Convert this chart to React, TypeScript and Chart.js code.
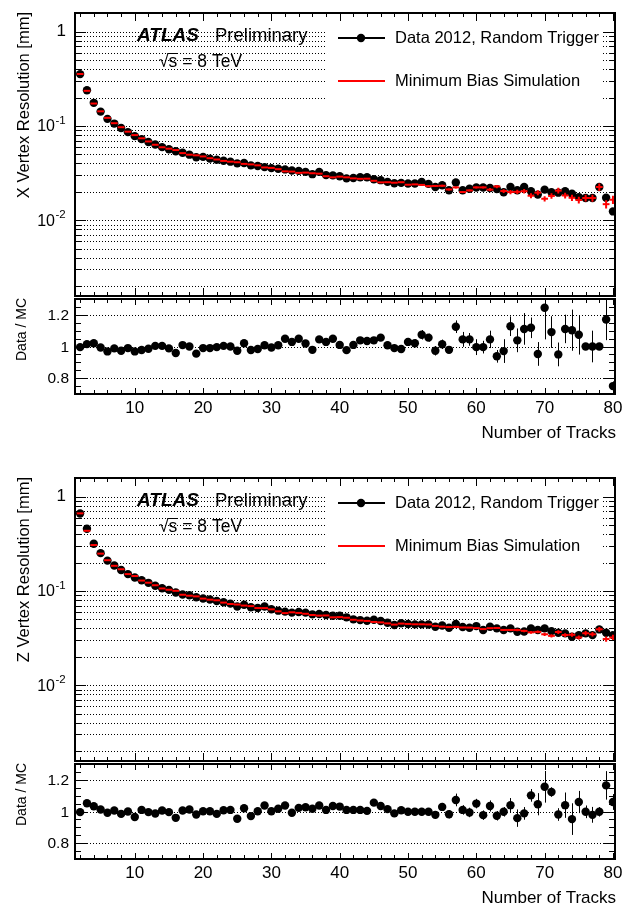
import { useEffect, useRef } from "react";
import { Chart, registerables } from "chart.js";

Chart.register(...registerables);

const FONT = '"Liberation Sans", Arial, Helvetica, sans-serif';

// number of tracks per vertex (bin centres)
const tracks = [
  2, 3, 4, 5, 6, 7, 8, 9, 10, 11, 12, 13, 14, 15, 16, 17, 18, 19, 20, 21,
  22, 23, 24, 25, 26, 27, 28, 29, 30, 31, 32, 33, 34, 35, 36, 37, 38, 39, 40, 41,
  42, 43, 44, 45, 46, 47, 48, 49, 50, 51, 52, 53, 54, 55, 56, 57, 58, 59, 60, 61,
  62, 63, 64, 65, 66, 67, 68, 69, 70, 71, 72, 73, 74, 75, 76, 77, 78, 79, 80,
];

// X vertex resolution [mm]
const xData = [
  0.355, 0.239, 0.176, 0.142, 0.119, 0.106, 0.095, 0.086, 0.078, 0.0725,
  0.0675, 0.0635, 0.0596, 0.0567, 0.054, 0.052, 0.0496, 0.0466, 0.047, 0.045,
  0.0439, 0.0428, 0.0418, 0.0401, 0.0404, 0.0382, 0.0376, 0.0366, 0.0357, 0.0351,
  0.0346, 0.0337, 0.0334, 0.0326, 0.0308, 0.0326, 0.0301, 0.0299, 0.0293, 0.0278,
  0.0281, 0.0286, 0.0286, 0.0272, 0.0266, 0.0255, 0.0247, 0.0249, 0.0245, 0.0245,
  0.0255, 0.0243, 0.0225, 0.0235, 0.0208, 0.0251, 0.0208, 0.0216, 0.0222, 0.0222,
  0.022, 0.0214, 0.0198, 0.0225, 0.0208, 0.0225, 0.0203, 0.0187, 0.0211, 0.0198,
  0.0196, 0.0203, 0.0191, 0.0176, 0.0172, 0.0172, 0.0225, 0.0173, 0.0124,
];
const xSim = [
  0.356, 0.236, 0.173, 0.143, 0.122, 0.107, 0.097, 0.087, 0.08, 0.074,
  0.0685, 0.0632, 0.0594, 0.0574, 0.0555, 0.0515, 0.0496, 0.0488, 0.0475, 0.0455,
  0.0441, 0.0426, 0.0418, 0.0412, 0.0396, 0.0391, 0.0382, 0.0363, 0.0359, 0.0348,
  0.033, 0.0328, 0.0318, 0.032, 0.0315, 0.0312, 0.0293, 0.0285, 0.029, 0.0285,
  0.0278, 0.0275, 0.0276, 0.0262, 0.0252, 0.0253, 0.025, 0.0253, 0.0238, 0.024,
  0.0237, 0.023, 0.0231, 0.0232, 0.0212, 0.0223, 0.0199, 0.0207, 0.0223, 0.0223,
  0.0211, 0.0228, 0.0204, 0.0199, 0.02, 0.0203, 0.0182, 0.0196, 0.0169, 0.0181,
  0.0206, 0.0183, 0.0173, 0.0164, 0.0172, 0.0172, 0.0225, 0.0148, 0.0165,
];
// relative uncertainty of the simulation
const xSimErr = [
  0.004, 0.004, 0.004, 0.004, 0.004, 0.004, 0.004, 0.004, 0.004, 0.004,
  0.005, 0.005, 0.005, 0.005, 0.005, 0.005, 0.005, 0.005, 0.005, 0.005,
  0.007, 0.007, 0.007, 0.007, 0.007, 0.007, 0.007, 0.007, 0.007, 0.007,
  0.01, 0.01, 0.01, 0.01, 0.01, 0.01, 0.01, 0.01, 0.01, 0.01,
  0.015, 0.015, 0.015, 0.015, 0.015, 0.015, 0.015, 0.015, 0.015, 0.015,
  0.025, 0.025, 0.025, 0.025, 0.025, 0.025, 0.025, 0.025, 0.025, 0.025,
  0.04, 0.04, 0.045, 0.05, 0.05, 0.055, 0.06, 0.06, 0.065, 0.065,
  0.07, 0.07, 0.075, 0.08, 0.08, 0.085, 0.09, 0.1, 0.1,
];
const xRatio = [
  0.996, 1.015, 1.021, 0.994, 0.969, 0.988, 0.973, 0.99, 0.969, 0.978,
  0.986, 1.004, 1.004, 0.988, 0.959, 1.009, 1.0, 0.955, 0.99, 0.99,
  0.996, 1.004, 1.0, 0.973, 1.021, 0.978, 0.984, 1.008, 0.994, 1.008,
  1.049, 1.029, 1.049, 1.019, 0.979, 1.045, 1.029, 1.049, 1.01, 0.977,
  1.01, 1.039, 1.035, 1.039, 1.056, 1.008, 0.99, 0.984, 1.029, 1.021,
  1.074, 1.056, 0.973, 1.014, 0.979, 1.125, 1.045, 1.045, 0.996, 0.996,
  1.045, 0.938, 0.971, 1.128, 1.039, 1.111, 1.118, 0.953, 1.245, 1.091,
  0.95, 1.111, 1.103, 1.074, 1.0, 1.0, 1.0, 1.17, 0.75,
];
const xRatioErr = [
  0.004, 0.004, 0.004, 0.004, 0.004, 0.005, 0.005, 0.005, 0.005, 0.005,
  0.006, 0.006, 0.006, 0.006, 0.007, 0.007, 0.007, 0.007, 0.008, 0.008,
  0.008, 0.009, 0.009, 0.01, 0.01, 0.01, 0.011, 0.011, 0.012, 0.012,
  0.013, 0.013, 0.014, 0.014, 0.015, 0.015, 0.016, 0.016, 0.017, 0.018,
  0.018, 0.019, 0.02, 0.02, 0.021, 0.022, 0.023, 0.024, 0.025, 0.026,
  0.03, 0.025, 0.03, 0.03, 0.02, 0.04, 0.047, 0.04, 0.05, 0.04,
  0.055, 0.04, 0.075, 0.062, 0.075, 0.1, 0.065, 0.075, 0.2, 0.1,
  0.075, 0.09, 0.13, 0.125, 0, 0.1, 0, 0.13, 0.03,
];

// Z vertex resolution [mm]
const zData = [
  0.663, 0.458, 0.317, 0.252, 0.21, 0.186, 0.167, 0.151, 0.139, 0.13,
  0.122, 0.1135, 0.107, 0.1027, 0.0964, 0.0918, 0.0902, 0.0859, 0.0832, 0.0811,
  0.0784, 0.0759, 0.0734, 0.0685, 0.0715, 0.0671, 0.066, 0.0683, 0.0639, 0.0618,
  0.0604, 0.0589, 0.0598, 0.0589, 0.0565, 0.0569, 0.0555, 0.0545, 0.0545, 0.0525,
  0.05, 0.0491, 0.0483, 0.0495, 0.048, 0.046, 0.0435, 0.0455, 0.0446, 0.0442,
  0.0442, 0.044, 0.0417, 0.043, 0.0407, 0.0446, 0.0414, 0.0407, 0.0424, 0.0385,
  0.0417, 0.0401, 0.0385, 0.0401, 0.0369, 0.0372, 0.0401, 0.0385, 0.0401, 0.0375,
  0.036, 0.0355, 0.0327, 0.034, 0.0355, 0.034, 0.0391, 0.036, 0.034,
];
const zSim = [
  0.666, 0.435, 0.307, 0.249, 0.212, 0.185, 0.17, 0.151, 0.144, 0.129,
  0.1225, 0.115, 0.1063, 0.1031, 0.1004, 0.0912, 0.0891, 0.0876, 0.083, 0.0809,
  0.0796, 0.0753, 0.0727, 0.0718, 0.07, 0.0691, 0.0659, 0.0658, 0.0638, 0.0608,
  0.0582, 0.0594, 0.0585, 0.0573, 0.0556, 0.0548, 0.055, 0.0525, 0.0528, 0.052,
  0.0495, 0.0486, 0.0481, 0.0469, 0.0464, 0.0453, 0.044, 0.0451, 0.0447, 0.0443,
  0.0443, 0.0441, 0.0426, 0.0418, 0.0414, 0.0416, 0.041, 0.0409, 0.0404, 0.0394,
  0.0403, 0.0405, 0.0386, 0.0386, 0.0385, 0.0377, 0.0364, 0.0368, 0.0347, 0.0334,
  0.0367, 0.0341, 0.0343, 0.0321, 0.0356, 0.0347, 0.0392, 0.0309, 0.0321,
];
const zSimErr = [
  0.003, 0.003, 0.003, 0.003, 0.003, 0.003, 0.003, 0.003, 0.003, 0.003,
  0.004, 0.004, 0.004, 0.004, 0.004, 0.004, 0.004, 0.004, 0.004, 0.004,
  0.005, 0.005, 0.005, 0.005, 0.005, 0.005, 0.005, 0.005, 0.005, 0.005,
  0.007, 0.007, 0.007, 0.007, 0.007, 0.007, 0.007, 0.007, 0.007, 0.007,
  0.01, 0.01, 0.01, 0.01, 0.01, 0.01, 0.01, 0.01, 0.01, 0.01,
  0.015, 0.015, 0.015, 0.015, 0.015, 0.015, 0.015, 0.015, 0.015, 0.015,
  0.02, 0.02, 0.025, 0.025, 0.03, 0.03, 0.035, 0.035, 0.04, 0.04,
  0.045, 0.045, 0.05, 0.05, 0.055, 0.055, 0.06, 0.065, 0.07,
];
const zRatio = [
  0.996, 1.052, 1.033, 1.0125, 0.992, 1.006, 0.985, 1.0, 0.965, 1.01,
  0.996, 0.9875, 1.006, 0.996, 0.96, 1.006, 1.0125, 0.981, 1.002, 1.002,
  0.985, 1.008, 1.01, 0.954, 1.021, 0.971, 1.002, 1.0375, 1.002, 1.017,
  1.0375, 0.992, 1.023, 1.027, 1.017, 1.0375, 1.01, 1.035, 1.031, 1.01,
  1.01, 1.01, 1.004, 1.056, 1.035, 1.015, 0.988, 1.008, 0.998, 0.998,
  0.998, 0.998, 0.979, 1.029, 0.983, 1.073, 1.01, 0.994, 1.05, 0.977,
  1.035, 0.973, 0.998, 1.04, 0.958, 0.988, 1.102, 1.046, 1.156, 1.123,
  0.981, 1.04, 0.952, 1.06, 0.998, 0.979, 0.998, 1.165, 1.06,
];
const zRatioErr = [
  0.004, 0.004, 0.004, 0.004, 0.004, 0.005, 0.005, 0.005, 0.005, 0.005,
  0.005, 0.006, 0.006, 0.006, 0.006, 0.007, 0.007, 0.007, 0.008, 0.008,
  0.008, 0.009, 0.009, 0.009, 0.01, 0.01, 0.01, 0.011, 0.011, 0.011,
  0.012, 0.012, 0.013, 0.013, 0.013, 0.014, 0.014, 0.015, 0.015, 0.016,
  0.016, 0.017, 0.017, 0.018, 0.018, 0.019, 0.02, 0.02, 0.021, 0.022,
  0.022, 0.023, 0.024, 0.025, 0.026, 0.04, 0.03, 0.03, 0.03, 0.03,
  0.035, 0.03, 0.03, 0.045, 0.055, 0.04, 0.04, 0.07, 0.1, 0.03,
  0.04, 0.08, 0.1, 0.07, 0.04, 0.05, 0.03, 0.09, 0.05,
];

// axes
const X_MIN = 1.25;
const X_MAX = 80.3;
const RES_MIN = 0.00157;
const RES_MAX = 1.58;
const RATIO_MIN = 0.7;
const RATIO_MAX = 1.3;

const trackLabels = [10, 20, 30, 40, 50, 60, 70, 80];
const decadeLabels = [
  { value: 0.01, exp: "-2" },
  { value: 0.1, exp: "-1" },
  { value: 1, exp: "" },
];
const ratioLabels = [
  { value: 0.8, text: "0.8" },
  { value: 1, text: "1" },
  { value: 1.2, text: "1.2" },
];

const resGrid: number[] = [];
for (const d of [0.001, 0.01, 0.1]) {
  for (let k = 1; k <= 9; k++) {
    const v = +(k * d).toPrecision(3);
    if (v > RES_MIN && v < RES_MAX) resGrid.push(v);
  }
}
resGrid.push(1);

const ratioTicks: number[] = [];
for (let v = 0.75; v < 1.3; v += 0.05) ratioTicks.push(+v.toFixed(2));

const trackTicks: number[] = [];
for (let t = 2; t <= 80; t += 2) trackTicks.push(t);

const MARKER = 4.2;

function drawFrame(
  chart: any,
  yTicks: { value: number; len: number }[],
  xMajor: number,
  xMinor: number
) {
  const { ctx, chartArea: a, scales } = chart;
  ctx.save();
  ctx.strokeStyle = "#000";
  ctx.lineWidth = 1;
  ctx.beginPath();
  for (const t of trackTicks) {
    const px = Math.round(scales.x.getPixelForValue(t)) + 0.5;
    const len = t % 10 === 0 ? xMajor : xMinor;
    ctx.moveTo(px, a.top);
    ctx.lineTo(px, a.top + len);
    ctx.moveTo(px, a.bottom);
    ctx.lineTo(px, a.bottom - len);
  }
  for (const t of yTicks) {
    const py = Math.round(scales.y.getPixelForValue(t.value)) + 0.5;
    ctx.moveTo(a.left, py);
    ctx.lineTo(a.left + t.len, py);
    ctx.moveTo(a.right, py);
    ctx.lineTo(a.right - t.len, py);
  }
  ctx.stroke();
  ctx.lineWidth = 2;
  ctx.strokeRect(a.left, a.top, a.right - a.left, a.bottom - a.top);
  ctx.restore();
}

function drawVerticalTitle(ctx: CanvasRenderingContext2D, text: string, x: number, y: number, size: number) {
  ctx.save();
  ctx.translate(x, y);
  ctx.rotate(-Math.PI / 2);
  ctx.font = `${size}px ${FONT}`;
  ctx.textAlign = "right";
  ctx.textBaseline = "middle";
  ctx.fillStyle = "#000";
  ctx.fillText(text, 0, 0);
  ctx.restore();
}

function resolutionPlugin(title: string, sim: number[], simErr: number[]) {
  return {
    id: "rootMain",
    beforeDatasetsDraw(chart: any) {
      const { ctx, chartArea: a, scales } = chart;
      ctx.save();
      ctx.strokeStyle = "#000";
      ctx.lineWidth = 1;
      ctx.setLineDash([1, 2]);
      ctx.beginPath();
      for (const v of resGrid) {
        const py = Math.round(scales.y.getPixelForValue(v)) + 0.5;
        ctx.moveTo(a.left, py);
        ctx.lineTo(a.right, py);
      }
      ctx.stroke();
      ctx.setLineDash([]);
      // legend box hides the grid
      ctx.fillStyle = "#fff";
      ctx.fillRect(325, a.top, 277, 112 - a.top);
      ctx.restore();
    },
    afterDatasetsDraw(chart: any) {
      const { ctx, chartArea: a, scales } = chart;
      ctx.save();
      // simulation uncertainties
      ctx.strokeStyle = "#ff0000";
      ctx.lineWidth = 2;
      ctx.beginPath();
      tracks.forEach((t, i) => {
        const px = scales.x.getPixelForValue(t);
        const lo = scales.y.getPixelForValue(sim[i] * (1 - simErr[i]));
        const hi = scales.y.getPixelForValue(sim[i] * (1 + simErr[i]));
        if (lo - hi > 2) {
          ctx.moveTo(px, hi);
          ctx.lineTo(px, lo);
        }
      });
      ctx.stroke();
      ctx.restore();

      drawFrame(
        chart,
        resGrid.map((v) => ({ value: v, len: [0.01, 0.1, 1].includes(v) ? 11 : 6 })),
        8,
        4
      );

      ctx.save();
      ctx.fillStyle = "#000";
      ctx.textBaseline = "middle";
      for (const d of decadeLabels) {
        const py = scales.y.getPixelForValue(d.value);
        if (!d.exp) {
          ctx.font = `17px ${FONT}`;
          ctx.textAlign = "right";
          ctx.fillText("1", a.left - 9, py);
        } else {
          ctx.font = `16px ${FONT}`;
          ctx.textAlign = "right";
          ctx.fillText("10", a.left - 20, py + 1);
          ctx.font = `11.5px ${FONT}`;
          ctx.textAlign = "left";
          ctx.fillText(d.exp, a.left - 19.5, py - 5);
        }
      }
      ctx.restore();

      drawVerticalTitle(ctx, title, 24, 12, 16.5);

      ctx.save();
      ctx.fillStyle = "#000";
      ctx.textAlign = "left";
      ctx.textBaseline = "alphabetic";
      ctx.font = `italic bold 19px ${FONT}`;
      ctx.fillText("ATLAS", 137, 41);
      ctx.font = `18.5px ${FONT}`;
      ctx.fillText("Preliminary", 215, 41);
      ctx.font = `17.5px ${FONT}`;
      const root = "\u221A";
      const wRoot = ctx.measureText(root).width;
      const wS = ctx.measureText("s").width;
      ctx.fillText(root + "s = 8 TeV", 159, 67);
      ctx.strokeStyle = "#000";
      ctx.lineWidth = 1;
      ctx.beginPath();
      ctx.moveTo(159 + wRoot - 1, 53.5);
      ctx.lineTo(159 + wRoot + wS, 53.5);
      ctx.stroke();

      // legend
      ctx.font = `16.5px ${FONT}`;
      ctx.textBaseline = "middle";
      ctx.lineWidth = 2;
      ctx.strokeStyle = "#000";
      ctx.beginPath();
      ctx.moveTo(338, 38);
      ctx.lineTo(385, 38);
      ctx.stroke();
      ctx.beginPath();
      ctx.arc(361, 38, MARKER, 0, Math.PI * 2);
      ctx.fill();
      ctx.fillText("Data 2012, Random Trigger", 395, 38);
      ctx.strokeStyle = "#ff0000";
      ctx.beginPath();
      ctx.moveTo(338, 81);
      ctx.lineTo(385, 81);
      ctx.stroke();
      ctx.fillText("Minimum Bias Simulation", 395, 81);
      ctx.restore();
    },
  };
}

function ratioPlugin(ratio: number[], ratioErr: number[]) {
  return {
    id: "rootRatio",
    beforeDatasetsDraw(chart: any) {
      const { ctx, chartArea: a, scales } = chart;
      ctx.save();
      ctx.strokeStyle = "#000";
      ctx.lineWidth = 1;
      ctx.setLineDash([1, 2]);
      ctx.beginPath();
      for (const l of ratioLabels) {
        const py = Math.round(scales.y.getPixelForValue(l.value)) + 0.5;
        ctx.moveTo(a.left, py);
        ctx.lineTo(a.right, py);
      }
      ctx.stroke();
      ctx.setLineDash([]);
      ctx.beginPath();
      ctx.rect(a.left, a.top, a.right - a.left, a.bottom - a.top);
      ctx.clip();
      ctx.beginPath();
      tracks.forEach((t, i) => {
        if (!ratioErr[i]) return;
        const px = Math.round(scales.x.getPixelForValue(t)) + 0.5;
        ctx.moveTo(px, scales.y.getPixelForValue(ratio[i] + ratioErr[i]));
        ctx.lineTo(px, scales.y.getPixelForValue(ratio[i] - ratioErr[i]));
      });
      ctx.stroke();
      ctx.restore();
    },
    afterDatasetsDraw(chart: any) {
      const { ctx, chartArea: a, scales } = chart;
      drawFrame(
        chart,
        ratioTicks.map((v) => ({ value: v, len: ratioLabels.some((l) => l.value === v) ? 12 : 6 })),
        6,
        4
      );
      ctx.save();
      ctx.fillStyle = "#000";
      ctx.font = `15.5px ${FONT}`;
      ctx.textAlign = "right";
      ctx.textBaseline = "middle";
      for (const l of ratioLabels) {
        ctx.fillText(l.text, 69, scales.y.getPixelForValue(l.value) + 1);
      }
      ctx.font = `17px ${FONT}`;
      ctx.textAlign = "center";
      ctx.textBaseline = "alphabetic";
      for (const t of trackLabels) {
        ctx.fillText(String(t), scales.x.getPixelForValue(t), a.bottom + 19);
      }
      ctx.font = `17px ${FONT}`;
      ctx.textAlign = "right";
      ctx.fillText("Number of Tracks", 616, a.bottom + 44);
      ctx.restore();
      drawVerticalTitle(ctx, "Data / MC", 22, 2, 14);
    },
  };
}

type PanelProps = {
  top: number;
  title: string;
  values: number[];
  sim: number[];
  simErr: number[];
  ratio: number[];
  ratioErr: number[];
};

function ResolutionPanel({ top, title, values, sim, simErr, ratio, ratioErr }: PanelProps) {
  const mainRef = useRef<HTMLCanvasElement>(null);
  const ratioRef = useRef<HTMLCanvasElement>(null);

  useEffect(() => {
    if (!mainRef.current || !ratioRef.current) return;

    const main = new Chart(mainRef.current, {
      type: "scatter",
      data: {
        datasets: [
          {
            label: "Minimum Bias Simulation",
            data: tracks.map((t, i) => ({ x: t, y: sim[i] })),
            pointStyle: "line",
            pointRadius: 3.4,
            pointBorderWidth: 2,
            pointBorderColor: "#ff0000",
            borderColor: "#ff0000",
          },
          {
            label: "Data 2012, Random Trigger",
            data: tracks.map((t, i) => ({ x: t, y: values[i] })),
            pointStyle: "circle",
            pointRadius: MARKER,
            pointBorderWidth: 0,
            pointBackgroundColor: "#000",
            backgroundColor: "#000",
          },
        ],
      },
      options: {
        animation: false,
        responsive: false,
        events: [],
        layout: { padding: { left: 75, right: 8, top: 13, bottom: 2 }, autoPadding: false },
        plugins: { legend: { display: false }, tooltip: { enabled: false } },
        scales: {
          x: { type: "linear", min: X_MIN, max: X_MAX, display: false },
          y: { type: "logarithmic", min: RES_MIN, max: RES_MAX, display: false },
        },
      },
      plugins: [resolutionPlugin(title, sim, simErr)],
    });

    const lower = new Chart(ratioRef.current, {
      type: "scatter",
      data: {
        datasets: [
          {
            label: "Data / MC",
            data: tracks.map((t, i) => ({ x: t, y: ratio[i] })),
            pointStyle: "circle",
            pointRadius: MARKER,
            pointBorderWidth: 0,
            pointBackgroundColor: "#000",
            backgroundColor: "#000",
          },
        ],
      },
      options: {
        animation: false,
        responsive: false,
        events: [],
        layout: { padding: { left: 75, right: 8, top: 3, bottom: 52 }, autoPadding: false },
        plugins: { legend: { display: false }, tooltip: { enabled: false } },
        scales: {
          x: { type: "linear", min: X_MIN, max: X_MAX, display: false },
          y: { type: "linear", min: RATIO_MIN, max: RATIO_MAX, display: false },
        },
      },
      plugins: [ratioPlugin(ratio, ratioErr)],
    });

    return () => {
      main.destroy();
      lower.destroy();
    };
  }, [title, values, sim, simErr, ratio, ratioErr]);

  return (
    <>
      <canvas
        ref={mainRef}
        width={623}
        height={298}
        style={{ position: "absolute", left: 0, top, width: 623, height: 298 }}
      />
      <canvas
        ref={ratioRef}
        width={623}
        height={150}
        style={{ position: "absolute", left: 0, top: top + 296, width: 623, height: 150 }}
      />
    </>
  );
}

export default function App() {
  return (
    <div
      style={{
        position: "absolute",
        left: 0,
        top: 0,
        width: 623,
        height: 909,
        background: "#fff",
        overflow: "hidden",
      }}
    >
      <ResolutionPanel
        top={0}
        title="X Vertex Resolution [mm]"
        values={xData}
        sim={xSim}
        simErr={xSimErr}
        ratio={xRatio}
        ratioErr={xRatioErr}
      />
      <ResolutionPanel
        top={465}
        title="Z Vertex Resolution [mm]"
        values={zData}
        sim={zSim}
        simErr={zSimErr}
        ratio={zRatio}
        ratioErr={zRatioErr}
      />
    </div>
  );
}
